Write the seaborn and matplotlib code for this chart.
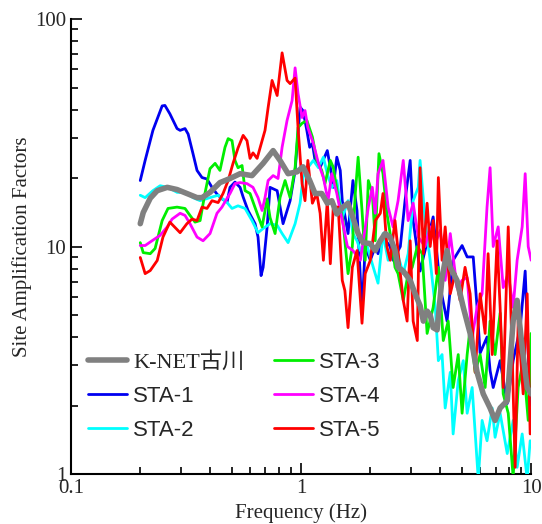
import numpy as np
import pandas as pd
import matplotlib
matplotlib.use('Agg')
import matplotlib.pyplot as plt
import seaborn as sns
from matplotlib.ticker import LogLocator, FuncFormatter, NullFormatter

# K-NET reference station (smooth, thick grey)
knet_f = [0.2, 0.206, 0.221, 0.237, 0.262, 0.289, 0.319, 0.353, 0.371, 0.402,
          0.444, 0.491, 0.543, 0.612, 0.684, 0.756, 0.810, 0.878, 0.961, 1.02,
          1.09, 1.15, 1.23, 1.30, 1.36, 1.43, 1.52, 1.60, 1.68, 1.77,
          1.86, 2.00, 2.10, 2.21, 2.32, 2.44, 2.56, 2.64, 2.78, 2.98,
          3.13, 3.29, 3.40, 3.53, 3.64, 3.75, 3.90, 4.10, 4.31, 4.45,
          4.76, 5.07, 5.43, 5.82, 6.19, 6.63, 6.97, 7.33, 7.87, 8.35,
          8.69, 9.14, 9.61, 10.0]
knet_a = [12.6, 14.1, 16.3, 17.6, 18.2, 17.8, 17.1, 16.4, 16.4, 17.3,
          19.1, 19.9, 20.9, 20.5, 23.2, 26.4, 23.9, 20.9, 21.3, 22.4,
          19.5, 17.1, 17.1, 15.5, 15.9, 13.9, 14.9, 15.5, 13.4, 11.4,
          10.4, 10.3, 9.6, 10.6, 11.4, 11.0, 9.6, 8.1, 7.8, 7.1,
          6.2, 5.5, 4.7, 5.2, 5.0, 4.4, 4.3, 7.3, 9.6, 8.1,
          7.1, 5.4, 4.15, 2.8, 2.25, 1.95, 1.72, 1.95, 2.1, 4.7,
          5.8, 3.6, 2.4, 2.25]

sta1_f = [0.2, 0.210, 0.227, 0.249, 0.256, 0.269, 0.289, 0.298, 0.313, 0.323,
          0.339, 0.353, 0.371, 0.390, 0.410, 0.431, 0.453, 0.477, 0.491, 0.516,
          0.543, 0.560, 0.588, 0.631, 0.650, 0.670, 0.684, 0.712, 0.733, 0.787,
          0.835, 0.896, 0.942, 0.990, 1.02, 1.06, 1.09, 1.12, 1.15, 1.21,
          1.30, 1.34, 1.38, 1.43, 1.48, 1.51, 1.60, 1.68, 1.75, 1.84,
          1.90, 2.00, 2.10, 2.16, 2.27, 2.44, 2.51, 2.70, 2.83, 2.98,
          3.07, 3.29, 3.75, 4.03, 4.31, 4.58, 5.01, 5.27, 5.60, 5.82,
          6.00, 6.43, 6.63, 6.84, 7.33, 7.87, 8.35, 8.96, 9.42, 9.71,
          10.0]
sta1_a = [19.5, 23.9, 32.4, 41.5, 41.7, 38.3, 33.0, 32.4, 33.0, 31.2,
          25.6, 21.6, 20.1, 19.8, 18.2, 17.0, 16.2, 15.7, 18.2, 19.2,
          18.2, 16.5, 14.4, 12.6, 11.0, 7.45, 8.1, 12.2, 18.2, 17.6,
          12.6, 15.9, 21.6, 41.0, 39.5, 32.3, 27.3, 28.4, 23.9, 22.3,
          26.4, 22.3, 18.2, 24.7, 21.6, 15.9, 11.4, 19.5, 14.4, 5.2,
          10.0, 8.7, 10.0, 9.3, 11.0, 10.0, 8.7, 10.0, 15.9, 23.9,
          13.0, 7.8, 13.5, 6.6, 4.7, 8.7, 10.1, 9.0, 9.0, 5.4,
          3.4, 4.0, 2.85, 2.4, 3.15, 2.04, 3.15, 4.4, 7.8, 3.4,
          2.0]

sta2_f = [0.2, 0.210, 0.227, 0.244, 0.264, 0.289, 0.313, 0.339, 0.364, 0.402,
          0.436, 0.477, 0.501, 0.532, 0.571, 0.612, 0.650, 0.684, 0.733, 0.787,
          0.827, 0.878, 0.942, 0.990, 1.02, 1.07, 1.13, 1.19, 1.25, 1.30,
          1.36, 1.43, 1.51, 1.60, 1.68, 1.75, 1.81, 1.94, 2.06, 2.16,
          2.27, 2.39, 2.51, 2.64, 2.78, 2.92, 3.07, 3.23, 3.29, 3.46,
          3.64, 3.83, 3.95, 4.10, 4.23, 4.45, 4.58, 4.82, 5.07, 5.27,
          5.54, 5.89, 6.12, 6.43, 6.77, 6.97, 7.33, 7.87, 8.35, 8.69,
          9.14, 9.61, 9.90]
sta2_a = [16.8, 16.4, 17.6, 18.5, 18.2, 17.3, 17.3, 16.4, 15.9, 16.4,
          16.8, 15.6, 14.7, 15.1, 14.7, 13.0, 11.5, 12.0, 12.6, 12.4,
          11.4, 10.4, 12.6, 15.5, 20.1, 22.2, 23.9, 22.2, 24.7, 20.9,
          18.2, 19.5, 13.4, 15.9, 11.4, 10.6, 9.6, 10.0, 8.1, 6.9,
          11.4, 8.7, 10.0, 9.1, 7.6, 9.3, 15.9, 18.2, 23.9, 13.0,
          8.7, 5.4, 3.15, 3.35, 1.95, 2.8, 1.5, 2.58, 3.15, 1.85,
          2.4, 0.95, 1.72, 1.4, 1.95, 1.45, 1.85, 1.23, 1.72, 1.07,
          1.5, 0.95, 1.4]

sta3_f = [0.2, 0.206, 0.221, 0.232, 0.249, 0.264, 0.289, 0.313, 0.329, 0.346,
          0.364, 0.382, 0.402, 0.423, 0.444, 0.467, 0.482, 0.501, 0.516, 0.532,
          0.554, 0.571, 0.600, 0.644, 0.677, 0.712, 0.733, 0.771, 0.810, 0.852,
          0.896, 0.942, 0.970, 1.01, 1.06, 1.12, 1.17, 1.23, 1.27, 1.34,
          1.38, 1.45, 1.52, 1.60, 1.67, 1.72, 1.77, 1.84, 1.90, 1.96,
          2.04, 2.10, 2.18, 2.27, 2.36, 2.49, 2.56, 2.64, 2.78, 2.92,
          3.04, 3.20, 3.36, 3.53, 3.75, 3.95, 4.15, 4.36, 4.58, 4.82,
          5.01, 5.27, 5.43, 5.71, 6.00, 6.31, 6.63, 6.97, 7.33, 7.56,
          7.95, 8.35, 8.78, 9.23, 9.71, 10.0]
sta3_a = [10.4, 9.4, 9.3, 9.8, 13.0, 14.7, 14.9, 14.7, 13.7, 12.8,
          13.0, 17.1, 22.0, 23.2, 21.6, 27.3, 29.8, 29.2, 23.9, 22.2,
          22.7, 17.6, 17.1, 14.0, 12.2, 16.2, 13.4, 11.4, 16.4, 19.5,
          16.4, 22.2, 33.3, 34.8, 35.8, 30.3, 23.9, 21.6, 18.9, 23.9,
          22.3, 16.4, 13.0, 7.6, 10.0, 17.1, 24.7, 14.4, 8.7, 19.5,
          17.1, 10.6, 25.6, 20.9, 14.0, 10.0, 8.1, 7.6, 5.8, 7.6,
          8.1, 10.0, 9.3, 4.15, 5.4, 8.1, 3.86, 4.7, 2.4, 3.35,
          1.85, 3.35, 4.4, 2.8, 3.35, 2.4, 4.7, 3.35, 5.1, 2.25,
          1.85, 0.97, 2.4, 3.15, 1.72, 4.15]

sta4_f = [0.2, 0.210, 0.225, 0.244, 0.262, 0.275, 0.298, 0.313, 0.329, 0.353,
          0.375, 0.402, 0.431, 0.453, 0.477, 0.491, 0.516, 0.543, 0.582, 0.618,
          0.650, 0.677, 0.697, 0.719, 0.756, 0.794, 0.827, 0.869, 0.914, 0.942,
          0.970, 1.01, 1.04, 1.07, 1.13, 1.19, 1.25, 1.31, 1.36, 1.43,
          1.51, 1.59, 1.68, 1.81, 1.96, 2.04, 2.10, 2.16, 2.27, 2.39,
          2.51, 2.64, 2.78, 2.92, 3.07, 3.23, 3.46, 3.64, 3.83, 4.03,
          4.23, 4.45, 4.76, 5.01, 5.27, 5.54, 5.82, 6.12, 6.43, 6.63,
          6.84, 7.19, 7.56, 7.95, 8.35, 8.69, 9.14, 9.42, 9.71, 10.0]
sta4_a = [10.1, 10.1, 10.6, 11.2, 12.2, 13.2, 14.0, 13.7, 12.6, 11.0,
          10.6, 11.4, 14.0, 14.9, 16.3, 17.1, 18.9, 19.1, 18.9, 18.2,
          16.4, 14.4, 16.4, 19.5, 20.5, 19.9, 27.3, 35.8, 43.8, 61.0,
          47.0, 36.9, 39.6, 33.3, 28.4, 23.2, 20.1, 15.9, 20.9, 17.1,
          13.0, 10.0, 9.6, 8.7, 14.9, 18.2, 14.0, 20.9, 23.9, 14.9,
          12.2, 15.9, 23.9, 13.0, 15.5, 11.0, 10.0, 12.2, 10.3, 11.8,
          7.1, 11.4, 6.6, 7.1, 7.3, 3.97, 5.4, 6.2, 14.9, 22.2,
          10.0, 12.2, 6.6, 7.6, 5.4, 8.7, 12.2, 20.9, 10.0, 8.7]

sta5_f = [0.2, 0.210, 0.221, 0.237, 0.251, 0.269, 0.298, 0.319, 0.336, 0.353,
          0.371, 0.390, 0.410, 0.436, 0.458, 0.482, 0.506, 0.532, 0.560, 0.582,
          0.600, 0.618, 0.644, 0.677, 0.697, 0.719, 0.748, 0.787, 0.827, 0.869,
          0.896, 0.942, 0.970, 1.01, 1.04, 1.07, 1.12, 1.17, 1.21, 1.25,
          1.30, 1.34, 1.38, 1.45, 1.51, 1.55, 1.60, 1.67, 1.75, 1.84,
          1.90, 2.00, 2.10, 2.21, 2.27, 2.36, 2.44, 2.56, 2.70, 2.78,
          2.89, 2.98, 3.07, 3.20, 3.29, 3.40, 3.53, 3.64, 3.75, 3.87,
          3.95, 4.10, 4.23, 4.45, 4.67, 4.91, 5.16, 5.43, 5.71, 6.00,
          6.31, 6.50, 6.77, 7.11, 7.33, 7.56, 7.95, 8.27, 8.52, 8.78,
          9.23, 9.61, 9.90]
sta5_a = [8.95, 7.6, 7.84, 8.68, 11.0, 12.8, 11.5, 12.6, 13.2, 13.0,
          14.9, 14.7, 15.9, 15.6, 17.1, 19.5, 23.2, 27.1, 30.8, 29.2,
          24.4, 25.8, 24.4, 29.2, 32.4, 40.8, 53.7, 46.1, 71.0, 53.7,
          52.0, 55.0, 33.3, 18.9, 15.9, 23.9, 15.5, 17.1, 14.0, 8.7,
          15.9, 8.4, 14.9, 14.9, 7.1, 6.4, 4.4, 8.1, 9.6, 4.6,
          7.6, 8.7, 13.0, 14.0, 17.1, 10.0, 8.7, 13.0, 7.6, 5.8,
          4.7, 10.6, 4.7, 3.86, 22.2, 9.3, 15.5, 10.0, 13.0, 7.6,
          20.1, 8.7, 12.2, 6.2, 7.6, 5.8, 8.1, 6.2, 2.8, 6.2,
          4.15, 9.3, 3.35, 10.6, 5.4, 2.4, 12.2, 3.35, 1.07, 4.7,
          2.25, 6.2, 1.5]

names = ['K-NET古川', 'STA-1', 'STA-2', 'STA-3', 'STA-4', 'STA-5']
colors = ['#808080', '#0000f0', '#00ffff', '#00ee00', '#ff00ff', '#ff0000']

sns.set_style('ticks')
plt.rcParams['font.family'] = ['Liberation Serif', 'Noto Sans CJK JP']

fig = plt.figure(figsize=(5.42, 5.24), dpi=100)
ax = fig.add_axes([0.131, 0.0954, 0.849, 0.8683])

data = [(knet_f, knet_a), (sta1_f, sta1_a), (sta2_f, sta2_a),
        (sta3_f, sta3_a), (sta4_f, sta4_a), (sta5_f, sta5_a)]
widths = [4.0, 2.0, 2.0, 2.0, 2.0, 2.0]
zorders = [10, 3, 4, 5, 6, 7]

for name, (f, a), c, w, z in zip(names, data, colors, widths, zorders):
    df = pd.DataFrame({'freq': f, 'amp': a})
    sns.lineplot(data=df, x='freq', y='amp', color=c, linewidth=w,
                 estimator=None, sort=False, ax=ax, label=name, zorder=z)

ax.set_xscale('log')
ax.set_yscale('log')
ax.set_xlim(0.1, 10)
ax.set_ylim(1, 100)

fmt = FuncFormatter(lambda v, p: '%g' % v)
for axis in (ax.xaxis, ax.yaxis):
    axis.set_major_locator(LogLocator(base=10))
    axis.set_minor_locator(LogLocator(base=10, subs=np.arange(2, 10)))
    axis.set_major_formatter(fmt)
    axis.set_minor_formatter(NullFormatter())

ax.tick_params(which='both', direction='in', color='black', width=1.2,
               labelsize=15)
ax.tick_params(which='major', length=8)
ax.tick_params(which='minor', length=5)
sns.despine(ax=ax)
for s in ('left', 'bottom'):
    ax.spines[s].set_linewidth(1.5)
    ax.spines[s].set_color('black')

ax.set_xlabel('Frequency (Hz)', fontsize=15, labelpad=4)
ax.set_ylabel('Site Amplification Factors', fontsize=15, labelpad=2)

handles, labels = ax.get_legend_handles_labels()
leg = ax.legend(handles, labels, ncol=2, loc='lower left',
                bbox_to_anchor=(0.037, 0.072), frameon=False, fontsize=16,
                borderpad=0, borderaxespad=0,
                handlelength=1.75, handletextpad=0.27, columnspacing=1.35,
                labelspacing=0.6)
for t in leg.get_texts():
    if t.get_text().startswith('STA'):
        t.set_fontfamily(['Liberation Sans'])
    else:
        t.set_fontfamily(['Liberation Serif', 'Noto Sans CJK JP'])

fig.savefig('out.png', dpi=100)
